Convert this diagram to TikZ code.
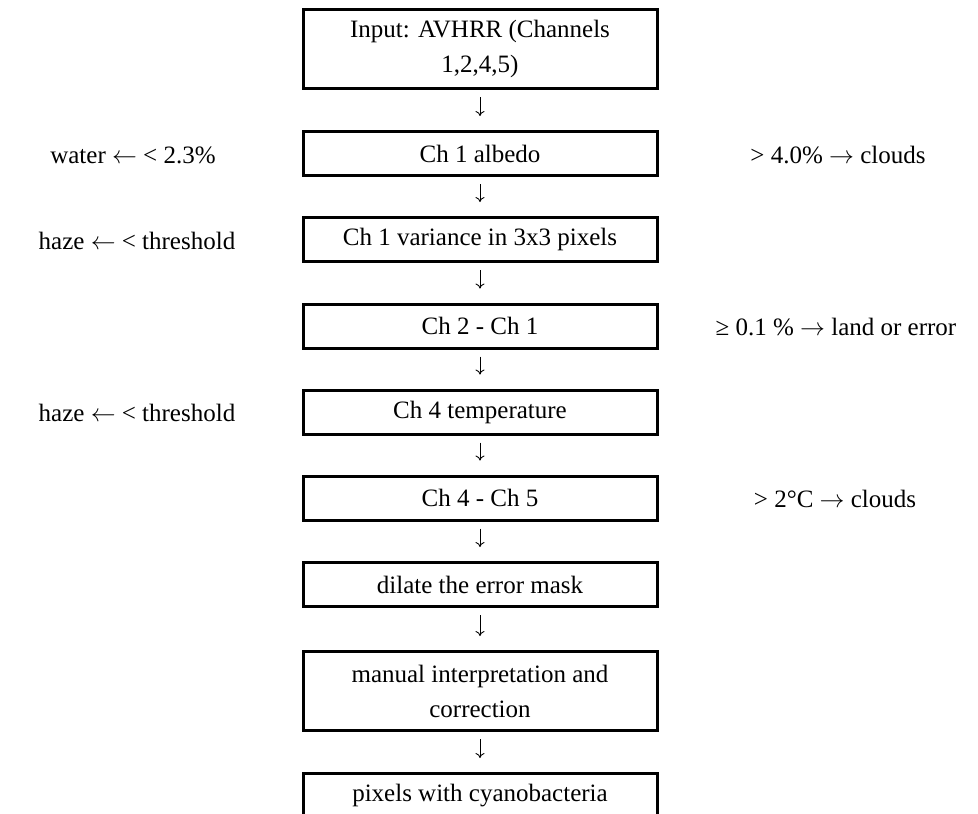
\documentclass[tikz,border=0pt]{standalone}
\usepackage{fontspec}
\setmainfont{Liberation Serif}
\newcommand{\la}{$\leftarrow$}
\newcommand{\ra}{$\rightarrow$}
\usetikzlibrary{arrows.meta}
\begin{document}
\begin{tikzpicture}[x=1pt,y=-1pt,
 box/.style={draw, line width=3pt, minimum width=354pt, minimum height=44pt, align=center, inner sep=0pt, font=\fontsize{25}{35}\selectfont},
 tall/.style={minimum height=79pt},
 lbl/.style={font=\fontsize{25}{35}\selectfont, inner sep=0pt},
 flow/.style={-{To[length=5pt,width=9pt]}, line width=0.9pt, shorten <=7pt, shorten >=14pt}]
\useasboundingbox (0,0) rectangle (978,814);
\node[box,tall] (b1) at (480,49) {Input: AVHRR (Channels\\1,2,4,5)};
\node[box] (b2) at (480,153.5) {Ch 1 albedo};
\node[box] (b3) at (480,239.5) {Ch 1 variance in 3x3 pixels};
\node[box] (b4) at (480,326) {Ch 2 - Ch 1};
\node[box] (b5) at (480,412) {Ch 4 temperature};
\node[box] (b6) at (480,498) {Ch 4 - Ch 5};
\node[box] (b7) at (480,584.5) {dilate the error mask};
\node[box,tall] (b8) at (480,691) {manual interpretation and\\correction};
\node[box] (b9) at (480,795.5) {pixels with cyanobacteria};
\foreach \a/\b in {b1/b2,b2/b3,b3/b4,b4/b5,b5/b6,b6/b7,b7/b8,b8/b9}
  \draw[flow] (\a.south) -- (\b.north);
\node[lbl] (l2) at (133,155) {water \la{} < 2.3\%};
\node[lbl] (l3) at (137,241) {haze \la{} < threshold};
\node[lbl] (l5) at (137,413) {haze \la{} < threshold};
\node[lbl] (r2) at (838,155) {> 4.0\% \ra{} clouds};
\node[lbl] (r4) at (836,327) {≥ 0.1 \% \ra{} land or error};
\node[lbl] (r6) at (835,499) {> 2°C \ra{} clouds};
\end{tikzpicture}
\end{document}
